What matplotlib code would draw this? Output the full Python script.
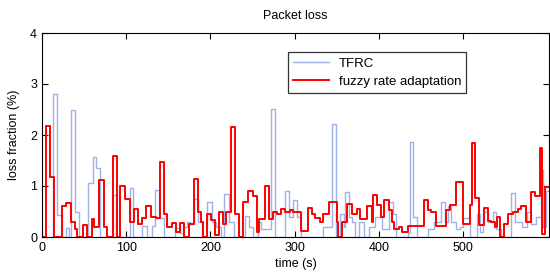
import numpy as np
import matplotlib
matplotlib.use("Agg")
import matplotlib.pyplot as plt

plt.rcParams['font.family'] = ['Liberation Sans', 'DejaVu Sans']

# TFRC loss fraction (%), step changes at these times (s)
tfrc_t = [0, 13.5, 18, 24, 28.5, 32.5, 34, 39, 44, 55, 60, 64, 68.5, 84, 88,
          104.5, 108.5, 119, 125, 131, 134.6, 139.3, 144.5, 158, 164, 168, 172,
          176, 181, 185.6, 190, 196.5, 202, 207, 212, 216.5, 222.5, 228, 241.5,
          246, 250, 256, 260, 272, 277, 288, 293, 298.5, 302.5, 308, 334, 344,
          349, 354, 358, 360, 364, 368, 372, 376, 382, 388, 395, 404, 412, 417,
          420, 434, 437, 441, 445, 458, 466, 473.5, 478, 482, 486, 491, 496,
          500, 508, 516, 520, 524, 530, 535, 539, 545, 557, 562, 570, 576, 581,
          586, 592, 595, 599, 602]
tfrc_loss = [0, 2.8, 0.43, 0, 0.18, 0, 2.5, 0.5, 0, 1.05, 1.57, 1.35, 0, 0.82, 0,
             0.96, 0, 0.22, 0, 0.22, 0.93, 0.38, 0, 0.18, 0.08, 0.2, 0.3,
             0.25, 0.74, 0.3, 0, 0.68, 0.3, 0.2, 0, 0.84, 0.3, 0, 0.42,
             0.2, 0, 0.3, 0.15, 2.51, 0, 0.9, 0.4, 0.72, 0.4, 0, 0.2, 2.21,
             0, 0.45, 0.2, 0.88, 0.4, 0.3, 0, 0.3, 0, 0.2, 0.4, 0.15, 0.68, 0.45,
             0, 0.08, 1.87, 0.4, 0, 0.15, 0.3, 0.68, 0.3, 0.6, 0.3, 0.15, 0.2,
             0.38, 0, 0.46, 0.1, 0.5, 0.3, 0.5, 0.15, 0, 0.86, 0.3, 0.2, 0.5, 0.25,
             0.4, 1.31, 0.2, 0.9, 0.9]

# fuzzy rate adaptation loss fraction (%)
fuzzy_t = [0, 4.5, 9, 14, 24, 28.5, 34, 39, 41, 49, 54, 59, 62, 68, 74, 77, 84,
           89, 93, 99, 104, 109, 114, 119, 123.5, 129.5, 135.5, 140, 145, 148,
           154, 159, 163.5, 168.5, 174, 180, 185, 188.5, 191, 196, 201, 206,
           210, 215, 219, 224, 229, 234, 239, 245, 250, 255, 258, 265, 269, 274,
           279, 284, 289, 294.5, 298, 308, 316, 320, 324, 330, 334, 341, 350,
           352, 356, 362, 368, 374, 378, 386, 391.5, 393.5, 398, 402, 406, 412,
           415, 418, 424, 428, 434, 454, 458, 462, 467.5, 479.5, 485, 491, 500,
           508, 510.7, 514.6, 518.6, 525, 530, 533.6, 537.6, 540.7, 543.6,
           548.7, 553.4, 559.4, 565.3, 569.3, 575.2, 581, 585, 591, 593.8,
           597.8, 602]
fuzzy_loss = [0, 2.17, 1.17, 0, 0.6, 0.67, 0.3, 0.15, 0, 0.23, 0, 0.35, 0.2, 1.12,
              0.2, 0, 1.58, 0, 1.0, 0.75, 0.3, 0.55, 0.25, 0.38, 0.6, 0.4, 0.37,
              1.47, 0.45, 0.2, 0.27, 0.1, 0.27, 0, 0.25, 1.13, 0.5, 0.3, 0, 0.45,
              0.33, 0.04, 0.5, 0.25, 0.5, 2.15, 0.45, 0, 0.69, 0.9, 0.8, 0.1, 0.35,
              1.0, 0.35, 0.5, 0.45, 0.55, 0.5, 0.53, 0.5, 0.12, 0.57, 0.45, 0.37,
              0.29, 0.45, 0.69, 0.3, 0, 0.3, 0.65, 0.45, 0.55, 0.35, 0.6, 0.3,
              0.82, 0.63, 0.4, 0.72, 0.53, 0.3, 0.16, 0.2, 0.1, 0.22, 0.72, 0.53,
              0.5, 0.22, 0.53, 0.62, 1.08, 0.25, 0.62, 1.85, 0.77, 0.23, 0.57,
              0.31, 0.3, 0.2, 0.4, 0, 0.25, 0.45, 0.5, 0.55, 0.6, 0.3, 0.88, 0.8,
              1.75, 0.05, 0.98, 0.98]

fig = plt.figure(figsize=(5.5, 2.74), dpi=100)
ax = fig.add_axes([42 / 550, 1 - 237 / 274, 507 / 550, 204 / 274])

ax.plot(tfrc_t, tfrc_loss, drawstyle='steps-post', color='#9fb2e6',
        linewidth=1.0, label='TFRC')
ax.plot(fuzzy_t, fuzzy_loss, drawstyle='steps-post', color='#ff0000',
        linewidth=1.4, label='fuzzy rate adaptation')

ax.set_xlim(0, 602)
ax.set_ylim(0, 4)
ax.set_xticks([0, 100, 200, 300, 400, 500])
ax.set_yticks([0, 1, 2, 3, 4])
ax.tick_params(direction='in', top=True, right=True, length=4, labelsize=9,
               width=0.8)
for s in ax.spines.values():
    s.set_linewidth(0.8)

ax.set_title('Packet loss', fontsize=9, pad=10)
ax.set_xlabel('time (s)', fontsize=9, labelpad=3)
ax.set_ylabel('loss fraction (%)', fontsize=9, labelpad=7)

leg = ax.legend(loc='upper left', bbox_to_anchor=(0.485, 0.905), fontsize=9.5,
                frameon=True, fancybox=False, edgecolor='black',
                handlelength=2.7, handletextpad=0.75, borderpad=0.4,
                labelspacing=0.45, borderaxespad=0)
leg.get_frame().set_linewidth(0.9)

fig.savefig('out.png', dpi=100)
